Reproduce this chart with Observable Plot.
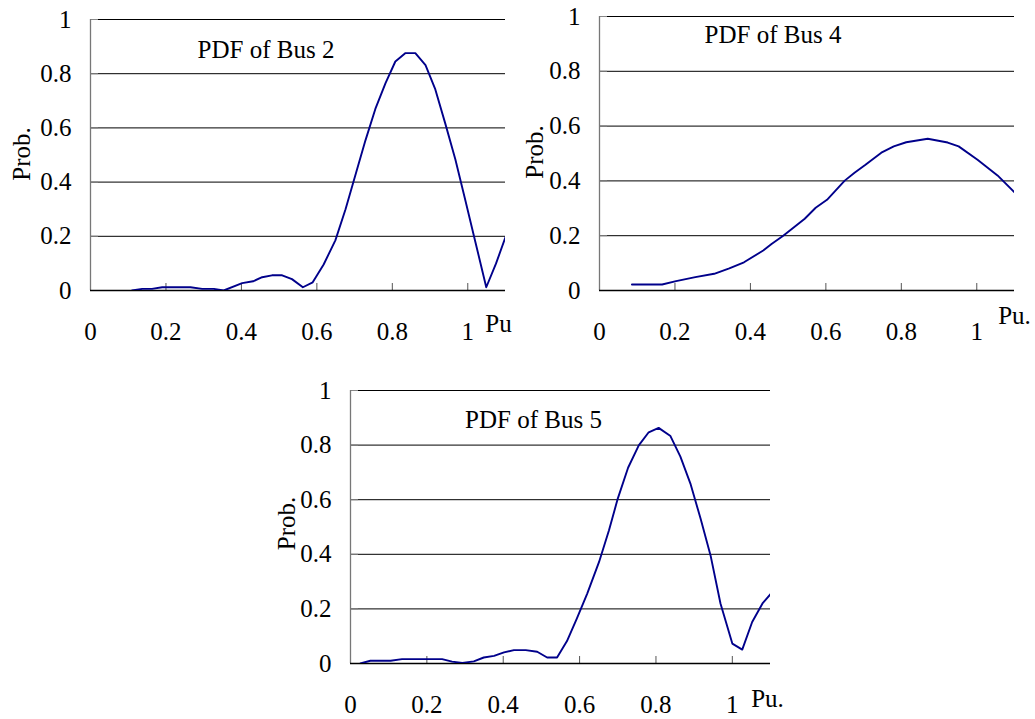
<!DOCTYPE html>
<html><head><meta charset="utf-8">
<script src="https://cdn.jsdelivr.net/npm/d3@7"></script>
<script src="https://cdn.jsdelivr.net/npm/@observablehq/plot@0.6"></script>
<style>
body{margin:0;background:#fff;}
#wrap{position:relative;width:1035px;height:719px;overflow:hidden;background:#fff;}
.panel{position:absolute;}
</style></head><body><div id="wrap"></div>
<script>
const xTicks = [0, 0.2, 0.4, 0.6, 0.8, 1];
const yTicks = [0, 0.2, 0.4, 0.6, 0.8, 1];
const gridValues = [0.2, 0.4, 0.6, 0.8, 1];
const titles = ["PDF of Bus 2", "PDF of Bus 4", "PDF of Bus 5"];
const xLabels = ["Pu", "Pu.", "Pu."];
const yLabel = "Prob.";

const bus2X = [0.110,0.137,0.163,0.190,0.238,0.265,0.296,0.327,0.353,0.402,0.431,0.455,0.481,0.508,0.534,0.563,0.589,0.618,0.649,0.676,0.702,0.729,0.755,0.782,0.808,0.835,0.861,0.888,0.914,0.941,0.967,0.994,1.020,1.049,1.075,1.100];
const bus2Y = [0,0.006,0.006,0.012,0.012,0.012,0.006,0.006,0,0.027,0.034,0.049,0.056,0.056,0.042,0.012,0.030,0.096,0.185,0.300,0.425,0.555,0.670,0.765,0.845,0.876,0.876,0.832,0.742,0.613,0.484,0.330,0.180,0.012,0.100,0.197];

const bus4X = [0.086,0.166,0.203,0.254,0.304,0.344,0.383,0.434,0.456,0.487,0.544,0.573,0.603,0.650,0.676,0.705,0.747,0.780,0.813,0.870,0.923,0.952,1.002,1.055,1.100];
const bus4Y = [0.022,0.022,0.034,0.049,0.061,0.081,0.103,0.146,0.170,0.200,0.262,0.302,0.331,0.401,0.430,0.459,0.503,0.526,0.541,0.554,0.540,0.526,0.477,0.420,0.358];

const bus5X = [0.026,0.052,0.105,0.135,0.240,0.266,0.293,0.323,0.349,0.376,0.402,0.428,0.459,0.489,0.515,0.541,0.567,0.593,0.620,0.651,0.677,0.700,0.727,0.755,0.781,0.807,0.838,0.864,0.891,0.917,0.943,0.969,1.000,1.026,1.052,1.079,1.100];
const bus5Y = [0,0.010,0.010,0.016,0.016,0.007,0.002,0.008,0.022,0.028,0.041,0.049,0.049,0.043,0.022,0.022,0.082,0.165,0.256,0.372,0.488,0.604,0.717,0.799,0.847,0.863,0.833,0.758,0.656,0.530,0.396,0.220,0.073,0.051,0.152,0.220,0.254];

const font = '"Liberation Serif","Times New Roman",serif';

function panel(o) {
  const data = o.xs.map((x, i) => ({x, y: o.ys[i]}));
  const chart = Plot.plot({
    width: o.width, height: o.height,
    marginLeft: o.mL, marginRight: o.mR, marginTop: o.mT, marginBottom: o.mB,
    x: {domain: [0, 1.1]},
    y: {domain: [0, 1]},
    style: {background: "transparent", overflow: "visible", fontFamily: font, fontSize: "25px", color: "#000"},
    marks: [
      Plot.ruleY(gridValues, {stroke: "#000", strokeWidth: 1}),
      Plot.axisY({ticks: yTicks, tickSize: 0, tickPadding: 19, tickFormat: d => String(d), fontSize: 25, label: null}),
      Plot.axisY({ticks: gridValues, tickSize: 8, dx: 8, text: null, stroke: "#888", label: null}),
      Plot.axisX({ticks: xTicks, tickSize: 0, tickPadding: 32, tickFormat: d => String(d), fontSize: 25, label: null}),
      Plot.axisX({ticks: xTicks.filter(d => d > 0), tickSize: 7, dy: -7, text: null, stroke: "#555", label: null}),
      Plot.ruleX([0], {stroke: "#777", strokeWidth: 1.3}),
      Plot.ruleY([0], {stroke: "#000", strokeWidth: 1.3}),
      Plot.line(data, {x: "x", y: "y", stroke: "#00008B", strokeWidth: 1.9, clip: true}),
      Plot.text([o.title], {text: d => d, frameAnchor: "top", dx: o.titleDx, dy: o.titleDy, lineAnchor: "middle", textAnchor: "middle", fontSize: 25}),
      Plot.text([yLabel], {text: d => d, frameAnchor: "left", rotate: -90, dx: o.probDx, dy: o.probDy, lineAnchor: "middle", textAnchor: "middle", fontSize: 25}),
      Plot.text([o.xLabel], {text: d => d, frameAnchor: "bottom-right", dx: o.puDx, dy: o.puDy, lineAnchor: "middle", textAnchor: "middle", fontSize: 25})
    ]
  });
  const div = document.createElement("div");
  div.className = "panel";
  div.style.left = o.left + "px";
  div.style.top = o.top + "px";
  div.appendChild(chart);
  document.getElementById("wrap").appendChild(div);
}

panel({title: titles[0], xLabel: xLabels[0], xs: bus2X, ys: bus2Y, left: 0, top: 0, width: 520, height: 350,
  mL: 90, mR: 15, mT: 19, mB: 60, titleDx: -32, titleDy: 30, probDx: -69, probDy: -1, puDx: -7, puDy: 33});
panel({title: titles[1], xLabel: xLabels[1], xs: bus4X, ys: bus4Y, left: 520, top: 0, width: 515, height: 350,
  mL: 79, mR: 21, mT: 16, mB: 60, titleDx: -34, titleDy: 18, probDx: -65, probDy: -1.5, puDx: 0, puDy: 25});
panel({title: titles[2], xLabel: xLabels[2], xs: bus5X, ys: bus5Y, left: 260, top: 370, width: 530, height: 349,
  mL: 90, mR: 20, mT: 20, mB: 56, titleDx: -27, titleDy: 29, probDx: -64, probDy: -3.5, puDx: -3, puDy: 35});
</script></body></html>
